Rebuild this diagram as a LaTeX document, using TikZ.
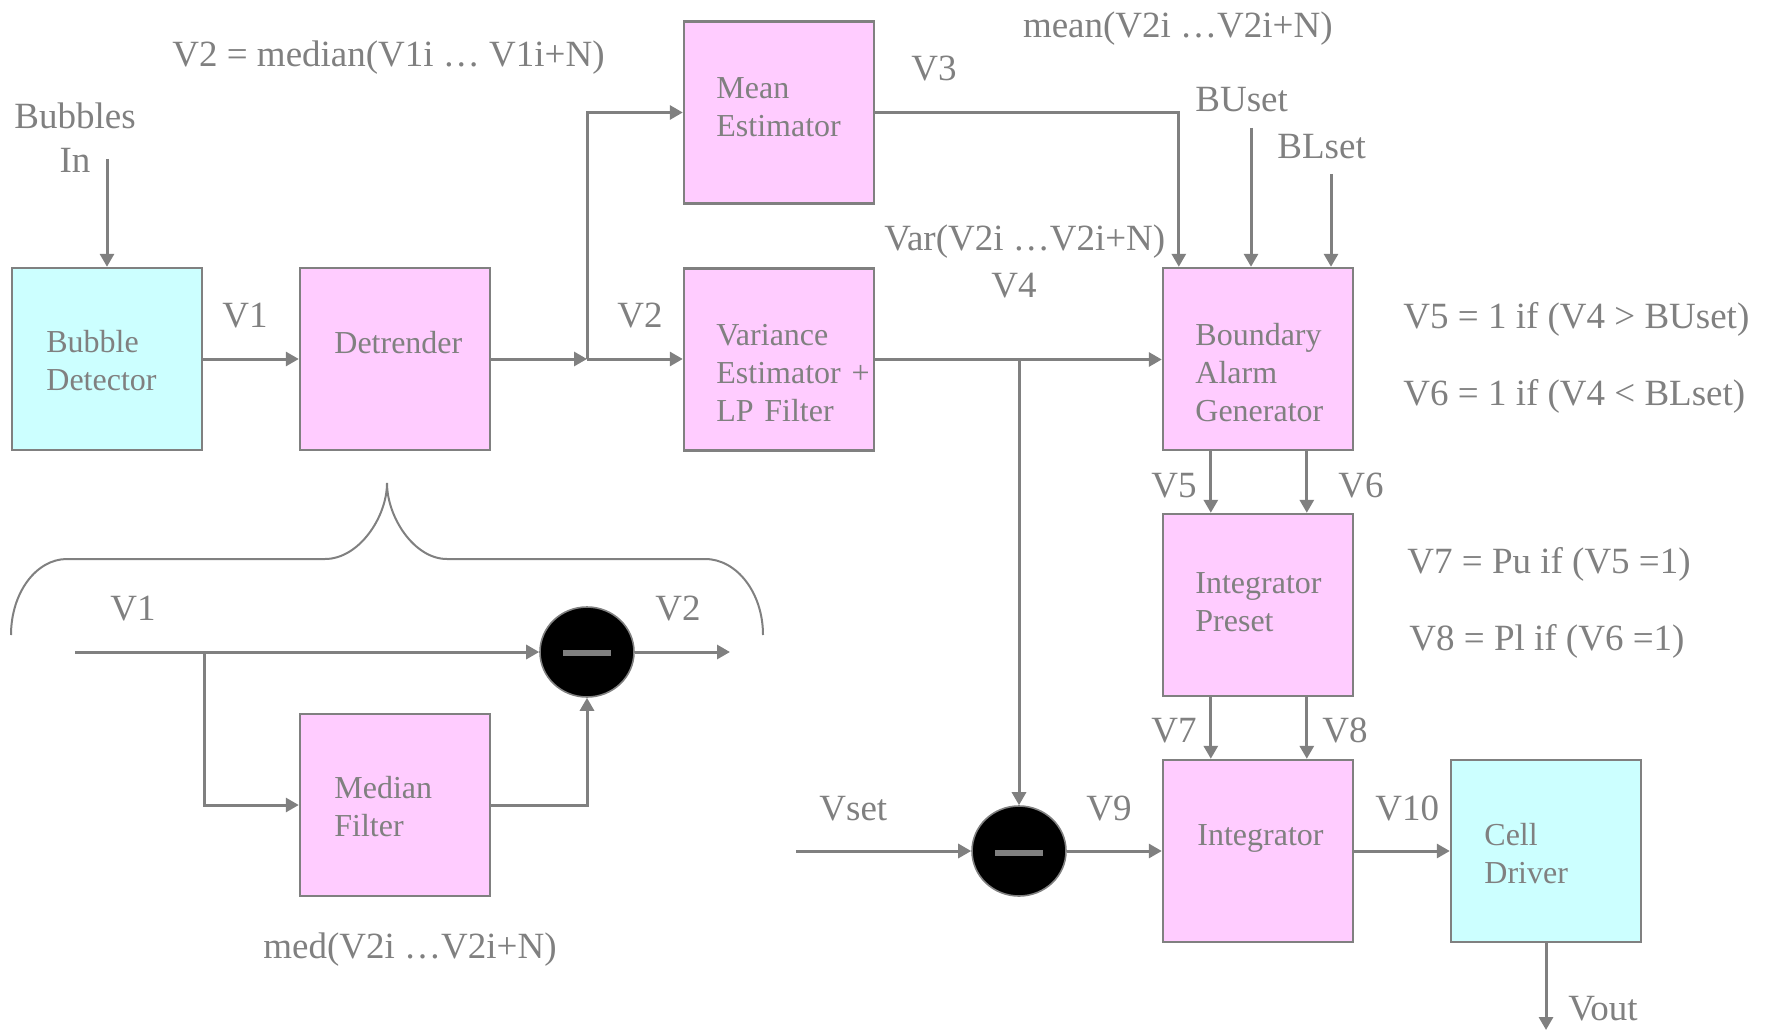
\documentclass[tikz,border=0pt]{standalone}
\usepackage{fontspec}
\setmainfont{Liberation Serif}
\usetikzlibrary{arrows.meta,shapes.geometric,calc}
\definecolor{lgray}{HTML}{808080}
\definecolor{pinkf}{HTML}{FFCCFF}
\definecolor{cyanf}{HTML}{CCFFFF}
\begin{document}
\begin{tikzpicture}[x=0.5pt,y=-0.5pt,
  box/.style={draw=lgray, line width=1.2pt, minimum width=95pt, minimum height=91pt, inner sep=0pt},
  pbox/.style={box, fill=pinkf},
  cbox/.style={box, fill=cyanf},
  btxt/.style={text=lgray, font=\fontsize{16}{19}\selectfont, inner sep=0pt, anchor=base west, align=left, text width=90pt},
  lab/.style={text=lgray, font=\fontsize{18.5}{22}\selectfont, inner sep=0pt, anchor=base west},
  arr/.style={draw=lgray, line width=1.5pt, -{Triangle[length=6.5pt,width=7pt]}},
  wire/.style={draw=lgray, line width=1.5pt},
  subtr/.style={ellipse, fill=black, draw=lgray, line width=0.8pt, minimum width=47pt, minimum height=45pt, inner sep=0pt},
]
\useasboundingbox (0,0) rectangle (1770,1032);

% boxes
\node[cbox] (bd) at (107,359) {};
\node[pbox] (dt) at (395,359) {};
\node[pbox] (me) at (779,112.5) {};
\node[pbox] (ve) at (779,359.5) {};
\node[pbox] (ba) at (1258,359) {};
\node[pbox] (ip) at (1258,605) {};
\node[pbox] (in) at (1258,851) {};
\node[cbox] (cd) at (1546,851) {};
\node[pbox] (mf) at (395,805) {};
\node[subtr] (s1) at (587,652) {};
\node[subtr] (s2) at (1019,851) {};
\fill[lgray] ($(s1)+(-24,-2)$) rectangle ($(s1)+(24,4)$);
\fill[lgray] ($(s2)+(-24,-1)$) rectangle ($(s2)+(24,5)$);

% box texts
\node[btxt] (bdt) at (46,352) {Bubble\\Detector};
\node[btxt] (dtt) at (334,353) {Detrender};
\node[btxt] (met) at (716,99) {Mean\\Estimator};
\node[btxt] (vet) at (716,345) {Variance\\Estimator +\\LP Filter};
\node[btxt] (bat) at (1195,345) {Boundary\\Alarm\\Generator};
\node[btxt] (ipt) at (1195,593) {Integrator\\Preset};
\node[btxt] (int) at (1197,845) {Integrator};
\node[btxt] (cdt) at (1484,845) {Cell\\Driver};
\node[btxt] (mft) at (334,798) {Median\\Filter};

% labels
\node[lab] (lmed) at (172,67) {V2 = median(V1i … V1i+N)};
\node[lab, anchor=base] (lbub) at (75,129) {Bubbles};
\node[lab, anchor=base] (lin) at (75,173) {In};
\node[lab] (lv1) at (222,327) {V1};
\node[lab] (lv2) at (617,327) {V2};
\node[lab] (lv3) at (911,81) {V3};
\node[lab, anchor=base east] (lmean) at (1333,38) {mean(V2i …V2i+N)};
\node[lab] (lbu) at (1195,112) {BUset};
\node[lab] (lbl) at (1277,159) {BLset};
\node[lab] (lvar) at (884,250) {Var(V2i …V2i+N)};
\node[lab] (lv4) at (991,297) {V4};
\node[lab] (le5) at (1403,328) {V5 = 1 if (V4 > BUset)};
\node[lab] (le6) at (1403,405) {V6 = 1 if (V4 < BLset)};
\node[lab] (le7) at (1407,573) {V7 = Pu if (V5 =1)};
\node[lab] (le8) at (1409,650) {V8 = Pl if (V6 =1)};
\node[lab] (lv5) at (1151,497) {V5};
\node[lab] (lv6) at (1338,497) {V6};
\node[lab] (lv7) at (1151,742) {V7};
\node[lab] (lv8) at (1322,742) {V8};
\node[lab] (lvset) at (819,820) {Vset};
\node[lab] (lv9) at (1086,820) {V9};
\node[lab] (lv10) at (1375,820) {V10};
\node[lab] (lvout) at (1568,1020) {Vout};
\node[lab] (llv1) at (110,620) {V1};
\node[lab] (llv2) at (655,620) {V2};
\node[lab, anchor=base] (lmd) at (410,958) {med(V2i …V2i+N)};

% coordinates
\coordinate (bin) at (107,159);
\coordinate (j1) at (587,359);
\coordinate (j2) at (s2.north |- ve.east);
\coordinate (bu) at (1251,128);
\coordinate (bl) at (1331,174);
\coordinate (vs) at (796,851);
\coordinate (vo) at (1546,1030);
\coordinate (l1) at (75,652);
\coordinate (j3) at (204,652);
\coordinate (l2) at (730,652);

% connectors
\draw[arr] (bin) -- (bd.north);
\draw[arr] (bd) -- (dt);
\draw[arr] (dt.east) -- (j1);
\draw[arr] (j1) -- (j1 -| ve.west);
\draw[arr] (j1) |- (me.west);
\draw[arr] (me.east) -| ([xshift=8.5pt]ba.north west);
\draw[arr] (bu) -- (bu |- ba.north);
\draw[arr] (bl) -- (bl |- ba.north);
\draw[arr] (ve.east) -- (ve.east -| ba.west);
\draw[arr] (j2) -- (s2.north);
\draw[arr] ([xshift=24.5pt]ba.south west) -- ([xshift=24.5pt]ip.north west);
\draw[arr] ([xshift=72.5pt]ba.south west) -- ([xshift=72.5pt]ip.north west);
\draw[arr] ([xshift=24.5pt]ip.south west) -- ([xshift=24.5pt]ip.south west |- in.north);
\draw[arr] ([xshift=72.5pt]ip.south west) -- ([xshift=72.5pt]ip.south west |- in.north);
\draw[arr] (vs) -- (s2.west);
\draw[arr] (s2.east) -- (in.west);
\draw[arr] (in) -- (cd);
\draw[arr] (cd.south) -- (vo);
\draw[arr] (l1) -- (s1.west);
\draw[arr] (j3) |- (mf.west);
\draw[arr] (mf.east) -| (s1.south);
\draw[arr] (s1.east) -- (l2);

% brace
\draw[lgray, line width=1pt] (11,635) .. controls (11,593) and (36,559) .. (67,559) -- (325,559)
  .. controls (359,559) and (387,517) .. (387,483)
  .. controls (387,517) and (414,559) .. (447,559) -- (705,559)
  .. controls (737,559) and (763,593) .. (763,635);
\end{tikzpicture}
\end{document}
